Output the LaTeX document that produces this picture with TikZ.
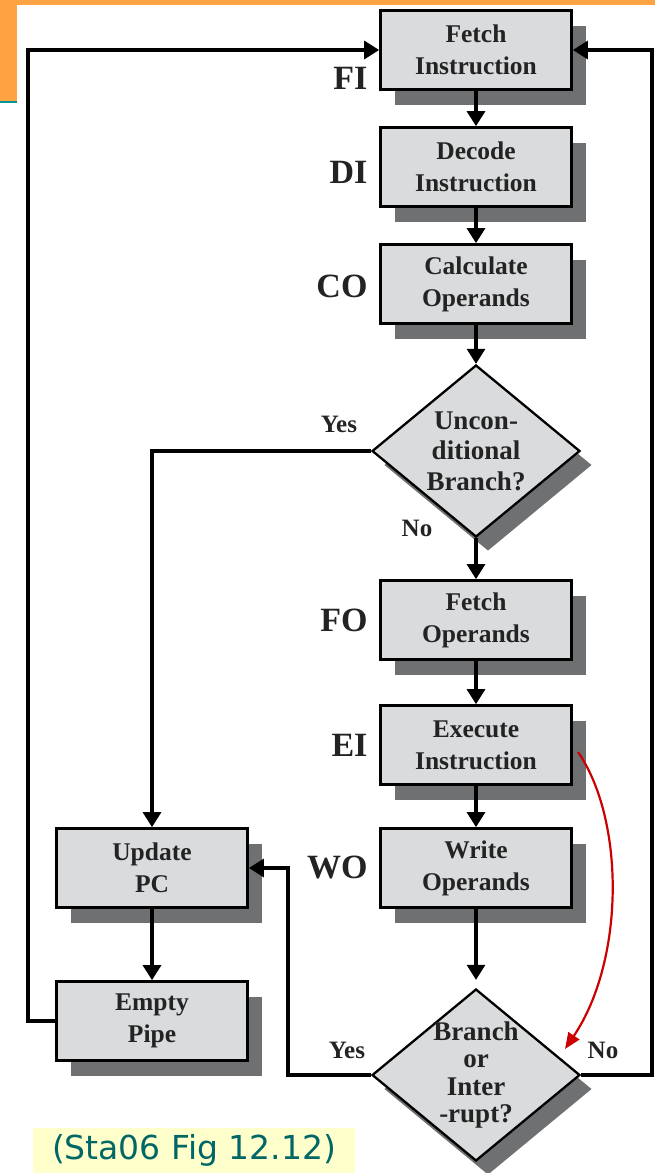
\documentclass[tikz,border=0pt]{standalone}
\usepackage{fontspec}
\setmainfont{Liberation Serif}
\newfontfamily\capfont{DejaVu Sans}
\usetikzlibrary{shapes.geometric,arrows.meta,shadows}

\definecolor{boxfill}{RGB}{217,219,221}
\definecolor{shadowgray}{RGB}{110,112,114}
\definecolor{inkgray}{RGB}{35,35,35}
\definecolor{bandorange}{RGB}{255,162,66}
\definecolor{bandteal}{RGB}{0,150,150}
\definecolor{capyellow}{RGB}{255,255,204}
\definecolor{capteal}{RGB}{0,102,102}
\definecolor{flowred}{RGB}{204,0,0}

\tikzset{
  stagebox/.style={draw=black, line width=2.7pt, fill=boxfill,
    minimum width=191pt, minimum height=79pt, inner sep=0pt,
    align=center, text=inkgray,
    font=\bfseries\fontsize{25.5}{32}\selectfont,
    drop shadow={shadow xshift=14pt, shadow yshift=-15pt,
      fill=shadowgray, opacity=1}},
  decision/.style={diamond, draw=black, line width=2.3pt, fill=boxfill,
    minimum width=208pt, minimum height=172pt, inner sep=0pt,
    drop shadow={shadow xshift=12pt, shadow yshift=-14pt,
      fill=shadowgray, opacity=1}},
  stagetag/.style={anchor=east, text=inkgray,
    font=\bfseries\fontsize{34}{36}\selectfont},
  answer/.style={text=inkgray, font=\bfseries\fontsize{25}{28}\selectfont},
  conn/.style={draw=black, line width=3.2pt,
    -{Triangle[length=15pt,width=18pt]}},
  interrupt/.style={draw=flowred, line width=2.2pt,
    -{Triangle[length=16pt,width=13pt]}},
}

\begin{document}
\begin{tikzpicture}[x=1pt, y=-1pt]
\useasboundingbox (0,0) rectangle (655,1173);

% slide decoration
\fill[bandorange] (0,0) rectangle (655,5);
\fill[bandorange] (0,0) rectangle (17,101);
\fill[bandteal] (0,101) rectangle (17,103);

% pipeline stages
\node[stagebox] (fi) at (476,50)  {Fetch\\Instruction};
\node[stagebox] (di) at (476,167) {Decode\\Instruction};
\node[stagebox] (co) at (476,284) {Calculate\\Operands};
\node[decision, label={[align=center, text=inkgray,
  font=\bfseries\fontsize{27}{30.5}\selectfont]center:Uncon-\\ditional\\Branch?}]
  (d1) at (476,451) {};
\node[stagebox] (fo) at (476,620) {Fetch\\Operands};
\node[stagebox] (ei) at (476,745) {Execute\\Instruction};
\node[stagebox] (wo) at (476,868) {Write\\Operands};
\node[decision, label={[align=center, text=inkgray,
  font=\bfseries\fontsize{27}{27.5}\selectfont]center:Branch\\or\\Inter\\-rupt?}]
  (d2) at (476,1075) {};
\node[stagebox] (upc) at (152,868)  {Update\\PC};
\node[stagebox] (ep)  at (152,1021) {Empty\\Pipe};

% stage tags
\node[stagetag] (tfi) at (371,78)  {FI};
\node[stagetag] (tdi) at (371,172) {DI};
\node[stagetag] (tco) at (371,286) {CO};
\node[stagetag] (tfo) at (371,620) {FO};
\node[stagetag] (tei) at (371,745) {EI};
\node[stagetag] (two) at (371,867) {WO};

% branch answers
\node[answer] (y1) at (339,424)  {Yes};
\node[answer] (n1) at (417,528)  {No};
\node[answer] (y2) at (347,1050) {Yes};
\node[answer] (n2) at (603,1050) {No};

% bend points of the return paths
\coordinate (yk) at (288,1075);
\coordinate (nk) at (652,1075);
\coordinate (lk) at (28,1021);

% main flow
\draw[conn] (fi) -- (di);
\draw[conn] (di) -- (co);
\draw[conn] (co) -- (d1.north);
\draw[conn] (d1.south) -- (fo);
\draw[conn] (fo) -- (ei);
\draw[conn] (ei) -- (wo);
\draw[conn, shorten >=8pt] (wo) -- (d2.north);

% branch paths
\draw[conn] (d1.west) -| (upc.north);
\draw[conn] (d2.west) -- (yk) |- (upc.east);
\draw[conn] (d2.east) -- (nk) |- (fi.east);
\draw[conn] (upc) -- (ep);
\draw[conn] (ep.west) -- (lk) |- (fi.west);

% interrupt path
\coordinate (rs) at (578,752);
\coordinate (re) at (565,1049);
\draw[interrupt] (rs) .. controls (625,820) and (625,960) .. (re);

% source caption
\node[fill=capyellow, minimum width=322pt, minimum height=45pt, inner sep=0pt,
  text=capteal, font=\capfont\fontsize{33}{36}\selectfont]
  (cap) at (194,1150.5) {(Sta06 Fig 12.12)};
\end{tikzpicture}
\end{document}
